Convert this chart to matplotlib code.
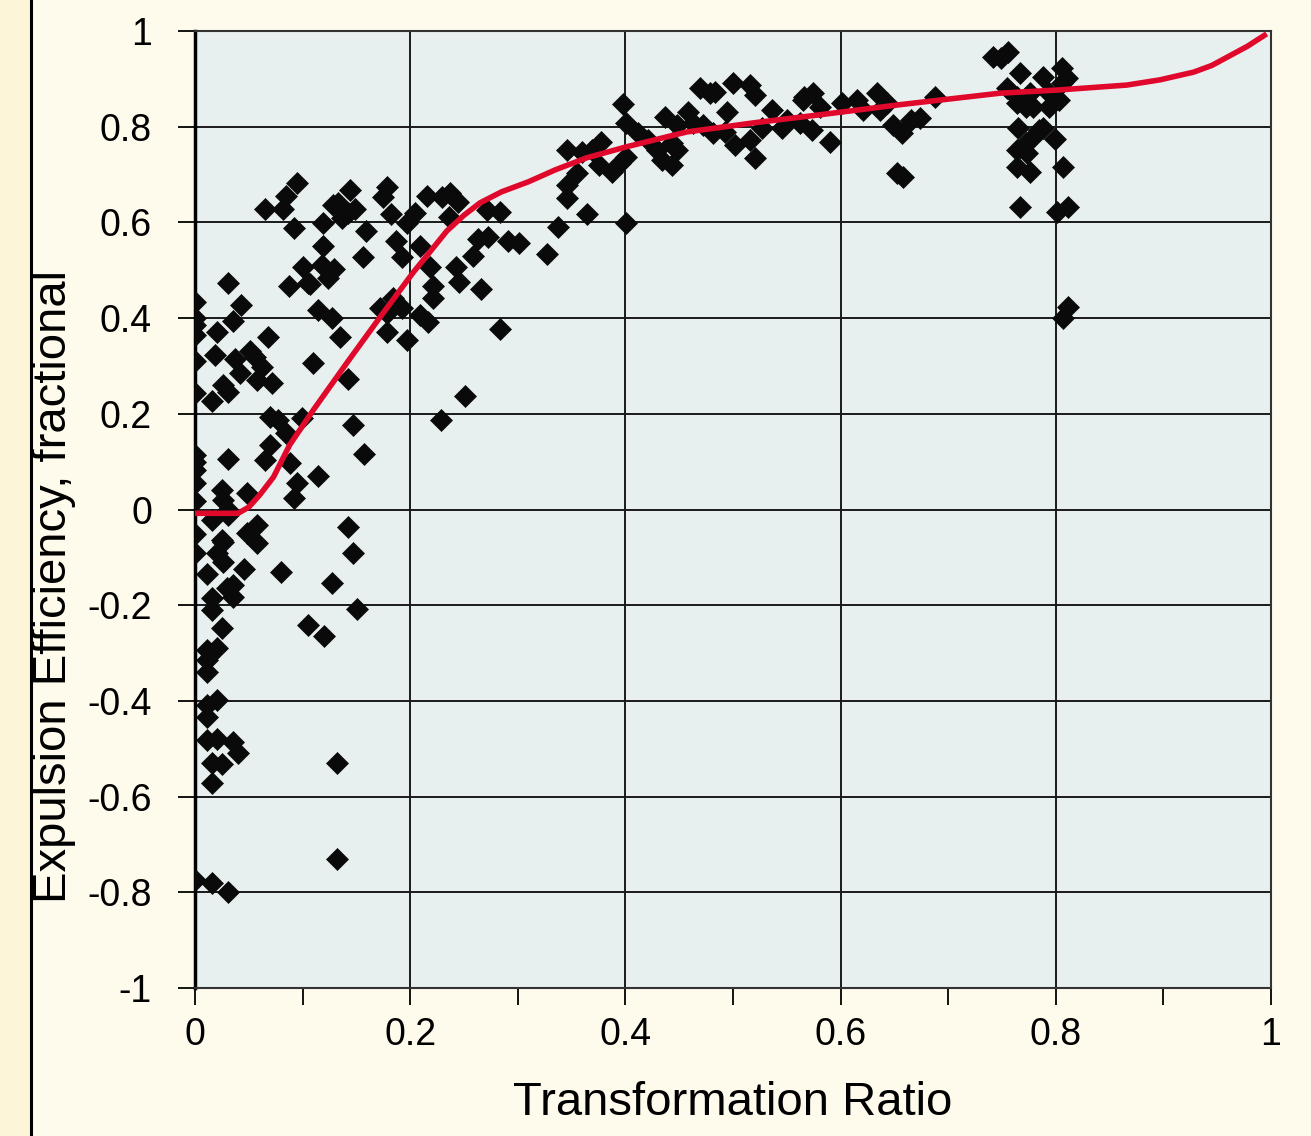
import numpy as np
import matplotlib.pyplot as plt
from matplotlib.patches import Rectangle
from matplotlib.lines import Line2D

plt.rcParams["font.family"] = ["Liberation Sans", "DejaVu Sans"]

# measured samples: transformation ratio vs expulsion efficiency
ratio = [
    0, 0, 0, 0, 0, 0, 0, 0, 0, 0, 0, 0, 0, 0,
    0.031, 0.043, 0.035, 0.020, 0.068, 0.019, 0.037, 0.051, 0.056, 0.062, 0.042, 0.058, 0.072, 0.026, 0.031, 0.016,
    0.110, 0.142,
    0.070, 0.077, 0.099, 0.085, 0.070, 0.065, 0.088, 0.031, 0.147, 0.157, 0.095, 0.092, 0.114, 0.025, 0.026, 0.048,
    0.031, 0.016, 0.058, 0.048, 0.025, 0.142, 0.147,
    0.031, 0.058, 0.026, 0.020, 0.026, 0.011, 0.046, 0.080, 0.035, 0.030, 0.035, 0.016, 0.016, 0.127, 0.151, 0.025,
    0.105, 0.120, 0.011, 0.020, 0.011, 0.011, 0.020, 0.011, 0.011, 0.011, 0.020, 0.035, 0.040, 0.016, 0.025, 0.016,
    0.132, 0.132, 0.016, 0.031,
    0.095, 0.085, 0.082, 0.065, 0.092, 0.119, 0.128, 0.133, 0.144, 0.149, 0.137, 0.142, 0.159, 0.178, 0.175, 0.182,
    0.197, 0.204, 0.216, 0.230, 0.237, 0.244, 0.236, 0.271, 0.283, 0.119, 0.156, 0.187, 0.192, 0.209, 0.100, 0.118,
    0.129, 0.124, 0.107, 0.087, 0.105, 0.218, 0.221, 0.221, 0.243, 0.245, 0.263, 0.272, 0.291, 0.301, 0.258, 0.266,
    0.283, 0.114, 0.127, 0.135, 0.184, 0.192, 0.172, 0.178, 0.209, 0.217, 0.178, 0.197, 0.251, 0.229, 0.327,
    0.398, 0.401, 0.412, 0.421, 0.346, 0.360, 0.369, 0.377, 0.375, 0.388, 0.395, 0.401, 0.355, 0.346, 0.346, 0.364,
    0.337, 0.401, 0.437, 0.458, 0.448, 0.463, 0.472, 0.443, 0.448, 0.429, 0.434, 0.443, 0.481, 0.493, 0.494, 0.502,
    0.516, 0.520, 0.527, 0.536, 0.550, 0.546, 0.469, 0.479, 0.483, 0.500, 0.516, 0.520, 0.565, 0.574, 0.562, 0.573,
    0.566, 0.581, 0.590, 0.601, 0.615, 0.621, 0.634, 0.643, 0.637, 0.649, 0.657, 0.665, 0.674, 0.652, 0.658, 0.688,
    0.742, 0.749, 0.756, 0.767, 0.755, 0.764, 0.788, 0.806, 0.810, 0.776, 0.794, 0.806, 0.803, 0.764, 0.772, 0.794,
    0.779, 0.765, 0.784, 0.772, 0.799, 0.779, 0.788, 0.764, 0.773, 0.764, 0.776, 0.807, 0.767, 0.801, 0.811, 0.811,
    0.807,
]
efficiency = [
    0.434, 0.400, 0.386, 0.365, 0.310, 0.243, 0.114, 0.099, 0.083, 0.055, 0.018, -0.051, -0.090, -0.775,
    0.473, 0.427, 0.394, 0.371, 0.361, 0.323, 0.315, 0.332, 0.319, 0.298, 0.285, 0.271, 0.264, 0.260, 0.246, 0.227,
    0.306, 0.273,
    0.193, 0.187, 0.191, 0.160, 0.135, 0.103, 0.097, 0.105, 0.177, 0.116, 0.055, 0.024, 0.070, 0.041, 0.020, 0.034,
    0.000, -0.022, -0.032, -0.049, -0.064, -0.036, -0.090,
    -0.012, -0.070, -0.068, -0.091, -0.110, -0.135, -0.125, -0.131, -0.158, -0.164, -0.182, -0.185, -0.210, -0.153, -0.208, -0.247,
    -0.241, -0.264, -0.294, -0.290, -0.315, -0.340, -0.398, -0.408, -0.434, -0.482, -0.480, -0.486, -0.509, -0.530, -0.532, -0.571,
    -0.530, -0.730, -0.781, -0.799,
    0.682, 0.655, 0.628, 0.628, 0.588, 0.598, 0.636, 0.640, 0.668, 0.628, 0.609, 0.620, 0.582, 0.674, 0.653, 0.617,
    0.598, 0.620, 0.655, 0.653, 0.661, 0.643, 0.611, 0.626, 0.622, 0.550, 0.528, 0.561, 0.528, 0.550, 0.506, 0.511,
    0.502, 0.484, 0.471, 0.467, 0.473, 0.506, 0.467, 0.442, 0.506, 0.476, 0.565, 0.570, 0.561, 0.557, 0.530, 0.461,
    0.377, 0.417, 0.400, 0.361, 0.442, 0.421, 0.421, 0.411, 0.407, 0.392, 0.371, 0.354, 0.238, 0.187, 0.534,
    0.847, 0.807, 0.787, 0.772, 0.751, 0.747, 0.751, 0.768, 0.720, 0.705, 0.724, 0.737, 0.703, 0.678, 0.651, 0.618,
    0.590, 0.598, 0.820, 0.831, 0.803, 0.807, 0.803, 0.766, 0.751, 0.751, 0.730, 0.720, 0.787, 0.789, 0.831, 0.762,
    0.772, 0.735, 0.797, 0.835, 0.814, 0.797, 0.881, 0.870, 0.872, 0.891, 0.887, 0.866, 0.856, 0.870, 0.807, 0.793,
    0.862, 0.841, 0.768, 0.849, 0.856, 0.835, 0.870, 0.849, 0.835, 0.803, 0.787, 0.814, 0.818, 0.703, 0.695, 0.862,
    0.946, 0.944, 0.956, 0.912, 0.881, 0.862, 0.904, 0.922, 0.902, 0.870, 0.870, 0.891, 0.856, 0.849, 0.841, 0.841,
    0.841, 0.797, 0.793, 0.766, 0.774, 0.778, 0.797, 0.751, 0.745, 0.716, 0.706, 0.716, 0.633, 0.622, 0.633, 0.423,
    0.400,
]

# fitted trend
fit_x = [0, 0.04, 0.05, 0.06, 0.073, 0.088, 0.11, 0.141, 0.172, 0.203, 0.22, 0.234, 0.25, 0.265, 0.285,
         0.31, 0.335, 0.364, 0.401, 0.457, 0.519, 0.581, 0.655, 0.748, 0.804, 0.866, 0.897, 0.928,
         0.945, 0.959, 0.978, 0.996]
fit_y = [-0.008, -0.008, 0.005, 0.03, 0.068, 0.135, 0.208, 0.306, 0.402, 0.496, 0.543, 0.582, 0.615, 0.641, 0.664,
         0.685, 0.71, 0.735, 0.758, 0.789, 0.808, 0.825, 0.846, 0.87, 0.877, 0.887, 0.898, 0.914,
         0.928, 0.945, 0.968, 0.994]

fig = plt.figure(figsize=(13.11, 11.36), dpi=100, facecolor="#FEFAEC")
fig.patches.append(Rectangle((0, 0), 30 / 1311, 1, transform=fig.transFigure,
                             facecolor="#FDF5D8", edgecolor="none", zorder=0))
fig.lines.append(Line2D([31 / 1311, 31 / 1311], [0, 1], transform=fig.transFigure,
                        color="black", lw=2.2))

ax = fig.add_axes([195 / 1311, 1 - 988 / 1136, 1076 / 1311, 957 / 1136])
ax.set_facecolor("#E8F0EF")

ax.plot(ratio, efficiency, linestyle="none", marker="D", markersize=11.5,
        color="#0a0a0a", markeredgewidth=0.5, zorder=3)
ax.plot(fit_x, fit_y, color="#E0092C", lw=4, solid_capstyle="butt",
        solid_joinstyle="round", zorder=4)

ax.set_xlim(0, 1)
ax.set_ylim(-1, 1)
ax.set_xticks(np.arange(0, 1.01, 0.2))
ax.set_xticklabels(["0", "0.2", "0.4", "0.6", "0.8", "1"])
ax.set_xticks(np.arange(0.1, 1.0, 0.2), minor=True)
ax.set_yticks(np.arange(-1, 1.01, 0.2))
ax.set_yticklabels(["-1", "-0.8", "-0.6", "-0.4", "-0.2", "0", "0.2", "0.4", "0.6", "0.8", "1"])
ax.grid(True, which="major", color="#1a1a1a", lw=1.4, zorder=1)
ax.set_axisbelow(True)

ax.tick_params(axis="both", which="both", direction="out", length=12, width=1.3,
               labelsize=27, color="black")
ax.tick_params(axis="y", pad=19)
ax.tick_params(axis="x", pad=9)

for side in ["top", "right", "bottom"]:
    ax.spines[side].set_color("#333333")
    ax.spines[side].set_linewidth(1.5)
ax.spines["left"].set_color("black")
ax.spines["left"].set_linewidth(2.5)

ax.set_xlabel("Transformation Ratio", fontsize=34, labelpad=20)
ax.set_ylabel("Expulsion Efficiency, fractional", fontsize=34)
ax.yaxis.set_label_coords(-0.111, 0.42)

plt.savefig("out.png", dpi=100, facecolor=fig.get_facecolor())
